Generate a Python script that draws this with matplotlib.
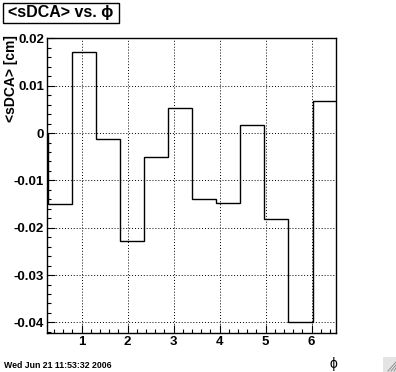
import numpy as np
import matplotlib
matplotlib.use("Agg")
import matplotlib.pyplot as plt
from matplotlib.patches import Rectangle
from matplotlib.ticker import MultipleLocator

# histogram contents, 12 bins in phi
phi_lo = np.pi / 12
phi_hi = 2 * np.pi + np.pi / 12
n_bins = 12
sdca = [-0.0150, 0.0172, -0.0013, -0.0227, -0.0050, 0.0052,
        -0.0140, -0.0148, 0.0018, -0.0181, -0.0399, 0.0068]

title = "<sDCA> vs. ϕ"
y_label = "<sDCA> [cm]"
x_label = "ϕ"
date_str = "Wed Jun 21 11:53:32 2006"

plt.rcParams['font.family'] = ['Liberation Sans', 'DejaVu Sans']

fig = plt.figure(figsize=(3.96, 3.72), dpi=100)
ax = fig.add_axes([47 / 396, 1 - 333 / 372, 289 / 396, 295 / 372])

edges = np.linspace(phi_lo, phi_hi, n_bins + 1)
ax.stairs(sdca, edges, color="black", lw=1.0)

ax.set_xlim(0.25, 6.53)
ax.set_ylim(-0.04225, 0.0201)

ax.xaxis.set_major_locator(MultipleLocator(1))
ax.xaxis.set_minor_locator(MultipleLocator(0.2))
ax.yaxis.set_major_locator(MultipleLocator(0.01))
ax.yaxis.set_minor_locator(MultipleLocator(0.002))
ax.yaxis.set_major_formatter(plt.FuncFormatter(lambda v, p: "0" if abs(v) < 1e-9 else f"{v:g}"))

ax.tick_params(which="both", direction="in", top=False, right=False,
               labelsize=9.5, width=0.8)
ax.tick_params(which="major", length=6, pad=2)
ax.tick_params(which="minor", length=3)
for lab in ax.get_xticklabels() + ax.get_yticklabels():
    lab.set_fontweight("bold")

ax.grid(True, which="major", color="black", linestyle=(0, (1, 2)), lw=0.7)
for s in ax.spines.values():
    s.set_linewidth(1.0)

# title box
fig.add_artist(Rectangle((3 / 396, 1 - 23 / 372), 116 / 396, 20 / 372,
                         transform=fig.transFigure, fill=False, lw=1.0, ec="black"))
fig.text(61 / 396, 1 - 13 / 372, title, ha="center", va="center",
         fontsize=11.5, fontweight="bold")

# axis labels
fig.text(11 / 396, 1 - 35 / 372, y_label, rotation=90, ha="center", va="top",
         fontsize=10, fontweight="bold")
fig.text(333 / 396, 1 - 364 / 372, x_label, ha="center", va="center", fontsize=10)
fig.text(4 / 396, 1 - 365 / 372, date_str, ha="left", va="center",
         fontsize=6.3, fontweight="bold")

# window resize grip
fig.add_artist(Rectangle((383 / 396, 0), 13 / 396, 15 / 372,
                         transform=fig.transFigure, fc="#e4e4e4", ec="none"))
for k in range(3):
    fig.add_artist(plt.Line2D([(388 + 3 * k) / 396, 396 / 396],
                              [1 / 372, (10 - 3 * k) / 372],
                              transform=fig.transFigure, color="#909090", lw=0.7))

fig.savefig("out.png", dpi=100)
